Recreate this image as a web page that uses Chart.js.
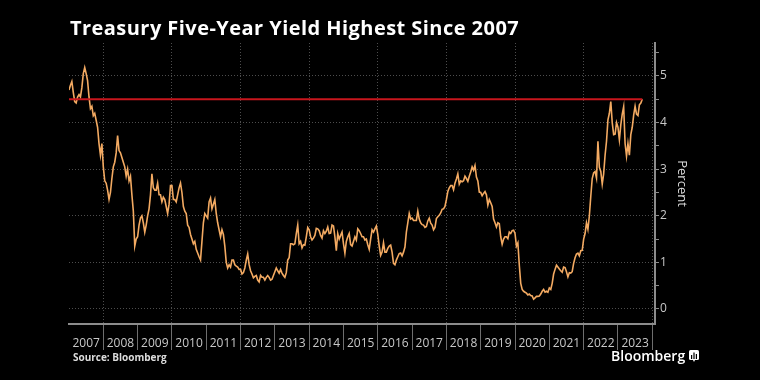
<!DOCTYPE html>
<html>
<head>
<meta charset="utf-8">
<script src="https://cdn.jsdelivr.net/npm/chart.js@4.4.0/dist/chart.umd.min.js"></script>
<style>
  html, body { margin: 0; padding: 0; background: #000; }
  #wrap { position: relative; width: 760px; height: 380px; background: #000; overflow: hidden; }
  #chart { position: absolute; left: 0; top: 0; }
  .title { position: absolute; left: 70px; top: 14px; font: bold 20px 'Open Sans', sans-serif; letter-spacing: 0.45px; color: #fff; white-space: nowrap; }
  .source { position: absolute; left: 73px; top: 350px; font: bold 10px 'Open Sans', sans-serif; color: #ddd; white-space: nowrap; }
  .brand { position: absolute; left: 611px; top: 346px; font: 600 14px 'Open Sans', sans-serif; color: #fff; white-space: nowrap; }
  .brand svg { vertical-align: -1px; margin-left: 4px; }
</style>
</head>
<body>
<div id="wrap">
  <canvas id="chart" width="760" height="380"></canvas>
  <div class="title">Treasury Five-Year Yield Highest Since 2007</div>
  <div class="source">Source: Bloomberg</div>
  <div class="brand">Bloomberg<svg width="10" height="12" viewBox="0 0 10 12"><rect x="0" y="0" width="10" height="10" rx="1.5" fill="#fff"/><path d="M4 10 L5 12 L6 10 Z" fill="#fff"/><rect x="2" y="5" width="1.2" height="4" fill="#000"/><rect x="4.4" y="2.5" width="1.2" height="6.5" fill="#000"/><rect x="6.8" y="4" width="1.2" height="5" fill="#000"/></svg></div>
</div>
<script>
// five-year yield, two readings per month (1st half, 2nd half)
const years = [2007, 2008, 2009, 2010, 2011, 2012, 2013, 2014, 2015, 2016, 2017, 2018, 2019, 2020, 2021, 2022, 2023];

const yield2007 = [4.70, 4.80, 4.88, 4.65, 4.45, 4.42, 4.55, 4.60, 4.55, 4.75, 5.05, 5.18, 5.05, 4.90, 4.55, 4.30, 4.35, 4.15, 4.20, 4.05, 3.90, 3.55, 3.30, 3.55];
const yield2008 = [3.05, 2.75, 2.70, 2.55, 2.35, 2.50, 2.80, 3.05, 3.15, 3.35, 3.72, 3.40, 3.35, 3.25, 3.15, 3.05, 2.85, 3.00, 2.75, 2.85, 2.45, 2.10, 1.35, 1.50];
const yield2009 = [1.55, 1.80, 1.95, 2.00, 1.85, 1.65, 1.80, 2.00, 2.15, 2.45, 2.90, 2.60, 2.55, 2.55, 2.70, 2.45, 2.45, 2.30, 2.40, 2.35, 2.20, 2.05, 2.25, 2.65];
const yield2010 = [2.65, 2.35, 2.35, 2.30, 2.45, 2.60, 2.70, 2.50, 2.20, 2.10, 2.05, 1.80, 1.75, 1.60, 1.50, 1.40, 1.45, 1.28, 1.20, 1.12, 1.05, 1.45, 1.85, 2.05];
const yield2011 = [2.00, 1.95, 2.30, 2.38, 2.15, 2.25, 2.35, 2.05, 1.85, 1.70, 1.55, 1.70, 1.60, 1.35, 1.00, 0.88, 0.95, 0.90, 1.05, 1.05, 0.95, 0.92, 0.90, 0.85];
const yield2012 = [0.85, 0.75, 0.78, 0.88, 1.05, 1.18, 0.95, 0.82, 0.75, 0.67, 0.70, 0.72, 0.62, 0.58, 0.72, 0.68, 0.68, 0.62, 0.68, 0.72, 0.68, 0.62, 0.64, 0.72];
const yield2013 = [0.80, 0.88, 0.82, 0.77, 0.85, 0.77, 0.72, 0.68, 0.78, 1.05, 1.10, 1.40, 1.40, 1.38, 1.40, 1.62, 1.80, 1.40, 1.45, 1.31, 1.38, 1.37, 1.55, 1.75];
const yield2014 = [1.70, 1.55, 1.48, 1.52, 1.58, 1.73, 1.72, 1.68, 1.58, 1.52, 1.68, 1.62, 1.67, 1.76, 1.62, 1.63, 1.80, 1.78, 1.55, 1.25, 1.62, 1.50, 1.58, 1.65];
const yield2015 = [1.40, 1.20, 1.45, 1.55, 1.62, 1.38, 1.35, 1.45, 1.55, 1.48, 1.72, 1.68, 1.62, 1.55, 1.55, 1.48, 1.50, 1.38, 1.28, 1.50, 1.70, 1.65, 1.72, 1.78];
const yield2016 = [1.60, 1.35, 1.15, 1.22, 1.42, 1.22, 1.22, 1.30, 1.35, 1.37, 1.22, 0.98, 0.95, 1.05, 1.12, 1.19, 1.20, 1.14, 1.22, 1.33, 1.65, 1.85, 2.05, 1.93];
const yield2017 = [1.95, 1.90, 1.90, 1.90, 2.10, 1.93, 1.85, 1.81, 1.80, 1.75, 1.77, 1.89, 1.95, 1.84, 1.80, 1.70, 1.75, 1.94, 1.98, 2.01, 2.06, 2.14, 2.15, 2.20];
const yield2018 = [2.35, 2.52, 2.60, 2.65, 2.65, 2.56, 2.70, 2.79, 2.90, 2.68, 2.75, 2.73, 2.75, 2.85, 2.80, 2.74, 2.85, 2.94, 3.05, 2.98, 3.08, 2.83, 2.75, 2.51];
const yield2019 = [2.50, 2.43, 2.48, 2.52, 2.45, 2.23, 2.35, 2.28, 2.20, 1.93, 1.85, 1.76, 1.85, 1.83, 1.55, 1.39, 1.50, 1.55, 1.55, 1.51, 1.65, 1.62, 1.68, 1.69];
const yield2020 = [1.62, 1.35, 1.42, 0.94, 0.55, 0.42, 0.38, 0.36, 0.34, 0.30, 0.32, 0.29, 0.28, 0.21, 0.24, 0.27, 0.27, 0.28, 0.32, 0.38, 0.42, 0.36, 0.38, 0.36];
const yield2021 = [0.45, 0.42, 0.55, 0.75, 0.85, 0.94, 0.90, 0.86, 0.82, 0.79, 0.90, 0.89, 0.80, 0.69, 0.78, 0.77, 0.80, 0.98, 1.10, 1.18, 1.20, 1.14, 1.25, 1.26];
const yield2022 = [1.50, 1.62, 1.85, 1.71, 2.00, 2.42, 2.80, 2.92, 2.95, 2.81, 3.60, 3.04, 2.95, 2.68, 2.90, 3.30, 3.60, 4.06, 4.20, 4.45, 4.00, 3.74, 3.75, 4.00];
const yield2023 = [3.90, 3.63, 3.95, 4.18, 4.34, 3.55, 3.28, 3.55, 3.30, 3.74, 3.90, 4.16, 4.35, 4.18, 4.15, 4.38, 4.42, 4.50];

const yieldByYear = [yield2007, yield2008, yield2009, yield2010, yield2011, yield2012, yield2013, yield2014, yield2015, yield2016, yield2017, yield2018, yield2019, yield2020, yield2021, yield2022, yield2023];

// red "highest since 2007" marker
const markLevel = 4.5;

// axis ticks
const yTickLabels = [0, 1, 2, 3, 4, 5];
const xTickLabels = years;

const labelColor = '#c8c8c8';
const gridColor = '#4d4d4d';
const axisColor = '#8c8c8c';

const points = [];
yieldByYear.forEach((vals, k) => {
  vals.forEach((v, i) => points.push({ x: years[k] + i / 24, y: v }));
});
const markLine = [
  { x: points[0].x, y: markLevel },
  { x: points[points.length - 1].x, y: markLevel }
];

// year boundaries get tick marks, mid-years get the labels
const xTicks = [];
xTickLabels.forEach(yr => {
  xTicks.push({ value: yr + 0.5 });
  xTicks.push({ value: yr + 1 });
});
const yTicks = [];
for (let v = 0; v <= 5.5; v += 0.5) yTicks.push({ value: v });

new Chart(document.getElementById('chart'), {
  type: 'line',
  data: {
    datasets: [
      {
        data: markLine,
        borderColor: '#c8161d',
        borderWidth: 2,
        pointRadius: 0,
        order: 0
      },
      {
        data: points,
        borderColor: '#f3aa62',
        borderWidth: 1.6,
        pointRadius: 0,
        tension: 0,
        order: 1
      }
    ]
  },
  options: {
    responsive: false,
    animation: false,
    layout: { padding: { left: 69, right: 70, top: 43, bottom: 0 } },
    plugins: {
      legend: { display: false },
      tooltip: { enabled: false },
      title: { display: false }
    },
    scales: {
      x: {
        type: 'linear',
        min: 2007,
        max: 2024.08,
        afterBuildTicks: s => { s.ticks = xTicks.map(t => ({ value: t.value })); },
        afterFit: s => { s.height = 56; },
        ticks: {
          autoSkip: false,
          maxRotation: 0,
          padding: -14,
          color: labelColor,
          font: { family: 'Open Sans', size: 12 },
          callback: v => Number.isInteger(v) ? '' : String(Math.floor(v))
        },
        grid: {
          color: ctx => (Number.isInteger(ctx.tick.value) && ctx.tick.value % 2 === 0) ? gridColor : 'rgba(0,0,0,0)',
          tickColor: ctx => Number.isInteger(ctx.tick.value) ? '#6e6e6e' : 'rgba(0,0,0,0)',
          tickLength: 26,
          lineWidth: 1
        },
        border: { display: true, color: axisColor, width: 2, dash: [1, 2] }
      },
      y: {
        position: 'right',
        min: -0.322,
        max: 5.708,
        afterBuildTicks: s => { s.ticks = yTicks.map(t => ({ value: t.value })); },
        afterFit: s => { s.width = 35; },
        ticks: {
          padding: 1,
          color: labelColor,
          font: { family: 'Open Sans', size: 12 },
          callback: v => yTickLabels.includes(v) ? String(v) : ''
        },
        grid: {
          color: ctx => Number.isInteger(ctx.tick.value) ? gridColor : 'rgba(0,0,0,0)',
          tickColor: axisColor,
          tickLength: 4,
          lineWidth: 1
        },
        border: { display: true, color: axisColor, width: 2, dash: [1, 2] },
        title: {
          display: true,
          text: 'Percent',
          color: '#dddddd',
          font: { family: 'Open Sans', size: 13 },
          padding: { top: 0, bottom: 0 }
        }
      }
    }
  }
});
</script>
</body>
</html>
